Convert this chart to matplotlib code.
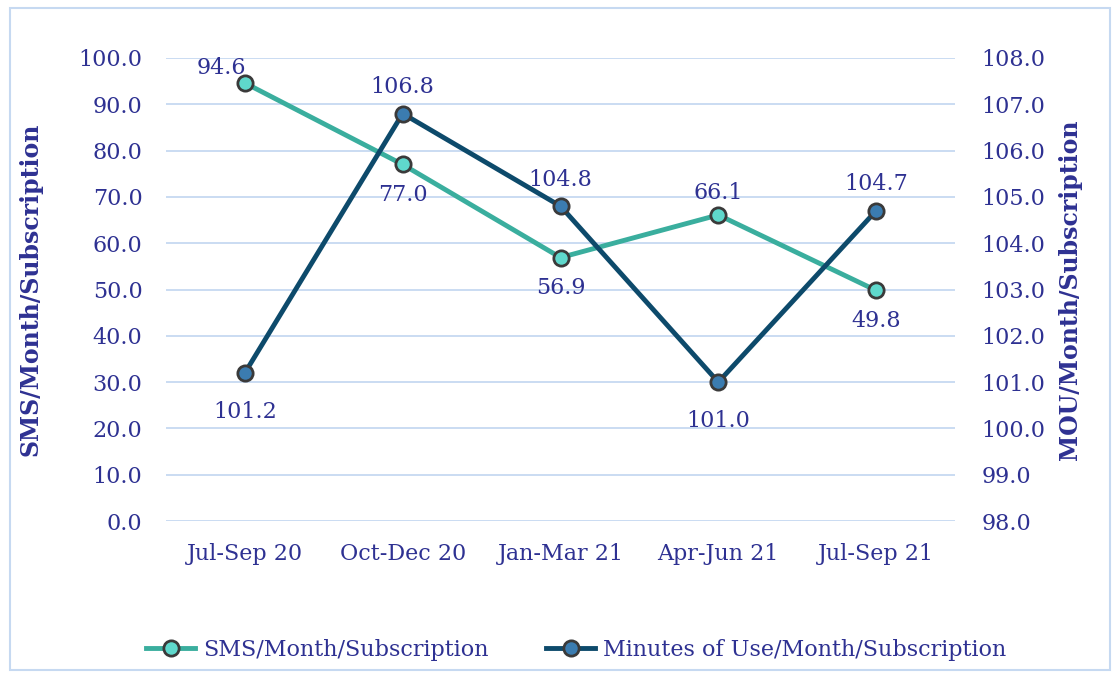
import matplotlib
matplotlib.use("Agg")
import matplotlib.pyplot as plt
from matplotlib.patches import Rectangle
from matplotlib.lines import Line2D

categories = ["Jul-Sep 20", "Oct-Dec 20", "Jan-Mar 21", "Apr-Jun 21", "Jul-Sep 21"]
sms = [94.6, 77.0, 56.9, 66.1, 49.8]
mou = [101.2, 106.8, 104.8, 101.0, 104.7]
sms_pos = ["above", "below", "below", "above", "below"]
mou_pos = ["below", "above", "above", "below", "above"]

TXT = "#2E3192"
GRID = "#C6D9F1"
SMS_C = "#3AAE9E"
MOU_C = "#0D4A6B"

plt.rcParams['font.family'] = ['DejaVu Serif']

fig = plt.figure(figsize=(11.19, 6.79), dpi=100)
W, H = 1119, 679
ax = fig.add_axes([166 / W, 1 - 521 / H, (955 - 166) / W, (521 - 58) / H])
ax2 = ax.twinx()

x = list(range(len(categories)))
ax.set_xlim(-0.5, len(categories) - 0.5)
ax.set_ylim(0, 100)
ax2.set_ylim(98, 108)
ax.set_yticks([i * 10 for i in range(11)])
ax.set_yticklabels([f"{i*10:.1f}" for i in range(11)])
ax2.set_yticks([98 + i for i in range(11)])
ax2.set_yticklabels([f"{98+i:.1f}" for i in range(11)])
ax.set_xticks(x)
ax.set_xticklabels(categories)

FS = 16
for a in (ax, ax2):
    for s in a.spines.values():
        s.set_visible(False)
    a.tick_params(length=0, colors=TXT, labelsize=FS)
ax.tick_params(axis='y', pad=17)
ax2.tick_params(axis='y', pad=19)
ax.tick_params(axis='x', pad=16)
ax.grid(axis='y', color=GRID, linewidth=1.3)
ax.set_axisbelow(True)

ax.set_ylabel("SMS/Month/Subscription", color=TXT, fontsize=17, fontweight='bold', labelpad=26)
ax2.set_ylabel("MOU/Month/Subscription", color=TXT, fontsize=17, fontweight='bold', labelpad=9)

mk = dict(marker='o', markersize=11, markeredgecolor='#3a3a3a', markeredgewidth=2)
ax.plot(x, sms, color=SMS_C, linewidth=3.5, markerfacecolor='#5fd8cc', zorder=3, **mk)
ax2.plot(x, mou, color=MOU_C, linewidth=3.5, markerfacecolor='#3b7cb0', zorder=3, **mk)

for xi, v, p in zip(x, sms, sms_pos):
    off = 16 if p == "above" else -22
    xo = -17 if xi == 0 else 0
    if xi == 0:
        off = 11
    ax.annotate(f"{v:.1f}", (xi, v), xytext=(xo, off), textcoords='offset points',
                ha='center', va='center', color=TXT, fontsize=FS, zorder=5)
for xi, v, p in zip(x, mou, mou_pos):
    off = 19 if p == "above" else -28
    ax2.annotate(f"{v:.1f}", (xi, v), xytext=(0, off), textcoords='offset points',
                 ha='center', va='center', color=TXT, fontsize=FS, zorder=5)

handles = [Line2D([0], [0], color=SMS_C, linewidth=3.5, markerfacecolor='#5fd8cc', **mk),
           Line2D([0], [0], color=MOU_C, linewidth=3.5, markerfacecolor='#3b7cb0', **mk)]
fig.legend(handles, ["SMS/Month/Subscription", "Minutes of Use/Month/Subscription"],
           loc='center', bbox_to_anchor=(0.515, 1 - 650 / H), ncol=2, frameon=False,
           fontsize=FS, labelcolor=TXT, columnspacing=2.6, handlelength=2.2, handletextpad=0.35)

fig.patches.append(Rectangle((10 / W, 1 - 670 / H), 1100 / W, 662 / H, transform=fig.transFigure,
                             fill=False, edgecolor=GRID, linewidth=1.5))

fig.savefig("out.png", dpi=100)
